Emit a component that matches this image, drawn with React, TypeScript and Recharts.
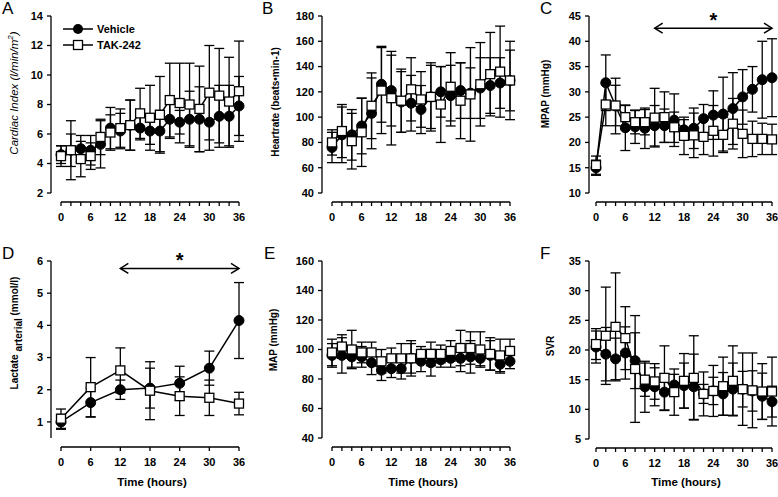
import React from 'react';
import { ComposedChart, Line, XAxis, YAxis, ErrorBar, ReferenceLine, Legend } from 'recharts';

const FONT = '"Liberation Sans", Arial, Helvetica, sans-serif';

// ---------- categories ----------
const hours = [0, 2, 4, 6, 8, 10, 12, 14, 16, 18, 20, 22, 24, 26, 28, 30, 32, 34, 36];
const lactateHours = [0, 6, 12, 18, 24, 30, 36];
const seriesNames = ['Vehicle', 'TAK-242'];

// ---------- A: Cardiac index ----------
const vehicleCI = [4.6, 4.9, 5.0, 4.9, 5.3, 6.4, 6.2, 6.6, 6.4, 6.2, 6.2, 7.0, 6.8, 7.0, 7.0, 6.8, 7.2, 7.2, 7.9];
const vehicleCISd = [0.6, 1.1, 0.9, 1.0, 1.6, 1.4, 1.2, 1.7, 0.8, 0.9, 1.4, 1.3, 0.8, 1.9, 2.2, 1.9, 2.1, 2.1, 2.0];
const takCI = [4.5, 4.9, 4.3, 4.5, 5.8, 6.1, 6.4, 6.6, 7.4, 7.1, 7.3, 8.3, 8.1, 8.0, 7.7, 8.8, 8.6, 8.2, 8.9];
const takCISd = [0.7, 2.0, 1.2, 0.9, 1.2, 1.2, 1.3, 1.7, 1.7, 2.2, 2.6, 2.5, 2.7, 2.8, 2.9, 3.2, 3.2, 3.0, 3.4];
const ticksCI = [2, 4, 6, 8, 10, 12, 14];

// ---------- B: Heart rate ----------
const vehicleHR = [76, 86, 86, 93, 103, 126, 121, 112, 111, 106, 116, 120, 117, 121, 119, 123, 125, 127, 129];
const vehicleHRSd = [12, 22, 20, 22, 28, 30, 28, 24, 22, 19, 25, 20, 24, 22, 20, 24, 22, 20, 24];
const takHR = [80, 89, 81, 88, 109, 121, 115, 113, 122, 114, 116, 110, 124, 113, 118, 126, 134, 136, 129];
const takHRSd = [10, 21, 22, 27, 26, 34, 37, 25, 25, 22, 27, 30, 27, 30, 37, 33, 33, 36, 31];
const ticksHR = [40, 60, 80, 100, 120, 140, 160, 180];

// ---------- C: MPAP ----------
const vehicleMPAP = [15.0, 31.8, 27.2, 22.9, 23.1, 22.8, 23.3, 23.3, 24.4, 22.5, 22.8, 24.7, 25.4, 25.6, 26.7, 29.0, 30.5, 32.4, 32.8];
const vehicleMPAPSd = [1.5, 5.5, 5.5, 4.5, 3.3, 4.0, 4.0, 3.3, 5.2, 2.0, 4.0, 2.8, 4.8, 7.3, 7.1, 5.4, 4.5, 7.6, 7.7];
const takMPAP = [15.5, 27.5, 27.3, 25.0, 24.0, 24.0, 24.9, 25.0, 23.0, 21.3, 21.4, 21.1, 22.3, 21.5, 23.7, 21.7, 20.7, 20.7, 20.6];
const takMPAPSd = [1.8, 4.2, 4.0, 2.3, 2.3, 2.5, 5.8, 5.0, 3.0, 3.7, 4.4, 3.5, 5.0, 3.5, 5.0, 4.7, 3.5, 3.1, 3.0];
const ticksMPAP = [10, 15, 20, 25, 30, 35, 40, 45];

// ---------- D: Lactate ----------
const vehicleLac = [1.0, 1.6, 2.0, 2.05, 2.2, 2.67, 4.15];
const vehicleLacSd = [0.23, 0.45, 0.3, 0.62, 0.53, 0.53, 1.18];
const takLac = [1.1, 2.08, 2.6, 1.97, 1.8, 1.75, 1.57];
const takLacSd = [0.3, 0.92, 0.7, 0.9, 0.6, 0.55, 0.35];
const ticksLac = [1, 2, 3, 4, 5, 6];

// ---------- E: MAP ----------
const vehicleMAP = [96, 96, 95, 95, 91, 86, 87, 87, 94, 92, 91, 93, 94, 94, 95, 94, 96, 90, 92];
const vehicleMAPSd = [8, 12, 7, 7, 8, 7, 6, 7, 10, 7, 9, 5, 6, 9, 11, 5, 10, 6, 5];
const takMAP = [98, 102, 100, 98, 98, 92, 94, 94, 94, 97, 97, 97, 99, 101, 101, 100, 97, 96, 99];
const takMAPSd = [9, 8, 13, 7, 7, 8, 7, 10, 12, 5, 8, 6, 7, 12, 11, 12, 11, 11, 8];
const ticksMAP = [40, 60, 80, 100, 120, 140, 160];

// ---------- F: SVR ----------
const vehicleSVR = [20.5, 19.3, 18.5, 19.5, 18.2, 13.8, 13.8, 12.9, 14.1, 14.0, 13.8, 12.6, 13.1, 12.6, 13.4, 13.4, 13.1, 12.2, 11.3];
const vehicleSVRSd = [2.7, 4.5, 3.5, 4.4, 4.7, 4.3, 3.2, 3.1, 1.8, 3.8, 5.5, 1.6, 2.3, 3.6, 4.4, 3.0, 3.4, 3.9, 2.6];
const takSVR = [21.0, 22.4, 23.9, 22.0, 16.8, 15.0, 14.7, 15.3, 12.9, 14.8, 15.3, 12.6, 13.1, 13.9, 14.8, 13.4, 13.2, 13.0, 13.0];
const takSVRSd = [2.6, 8.2, 9.1, 5.3, 9.0, 2.8, 3.0, 5.4, 3.9, 4.6, 7.1, 3.7, 4.3, 4.9, 5.9, 6.1, 6.3, 4.7, 5.8];
const ticksSVR = [5, 10, 15, 20, 25, 30, 35];

const build = (xs: number[], veh: number[], vehSd: number[], tak: number[], takSd: number[]) =>
  xs.map((t, i) => ({ t, veh: veh[i], vehErr: vehSd[i], tak: tak[i], takErr: takSd[i] }));

const panels = [
  {
    letter: 'A', left: 0, top: 0, height: 245, axisX: 51, x0: 61, x36: 239, yTop: 16, yMin: 193, xAxisY: 202,
    data: build(hours, vehicleCI, vehicleCISd, takCI, takCISd), domain: [2, 14], yTicks: ticksCI, xTicks: hours,
    title: 'ci', titleX: 14, titleY: 93, legend: true,
  },
  {
    letter: 'B', left: 260, top: 0, height: 245, axisX: 322, x0: 332, x36: 510, yTop: 16, yMin: 193, xAxisY: 202,
    data: build(hours, vehicleHR, vehicleHRSd, takHR, takHRSd), domain: [40, 180], yTicks: ticksHR, xTicks: hours,
    title: 'Heartrate (beats\u2022min-1)', titleX: 275, titleY: 102,
  },
  {
    letter: 'C', left: 518, top: 0, height: 245, axisX: 589, x0: 596, x36: 772, yTop: 16, yMin: 193, xAxisY: 202,
    data: build(hours, vehicleMPAP, vehicleMPAPSd, takMPAP, takMPAPSd), domain: [10, 45], yTicks: ticksMPAP, xTicks: hours,
    title: 'MPAP (mmHg)', titleX: 545, titleY: 94, arrowY: 42.6,
  },
  {
    letter: 'D', left: 0, top: 245, height: 252, axisX: 51, x0: 61, x36: 239, yTop: 261, yMin: 438, xAxisY: 447,
    data: build(lactateHours, vehicleLac, vehicleLacSd, takLac, takLacSd), domain: [0.5, 6], yTicks: ticksLac, xTicks: lactateHours,
    title: 'lac', titleX: 14, titleY: 333, arrowY: 5.77, time: true,
  },
  {
    letter: 'E', left: 260, top: 245, height: 252, axisX: 322, x0: 332, x36: 510, yTop: 261, yMin: 438, xAxisY: 447,
    data: build(hours, vehicleMAP, vehicleMAPSd, takMAP, takMAPSd), domain: [40, 160], yTicks: ticksMAP, xTicks: hours,
    title: 'MAP (mmHg)', titleX: 273, titleY: 340, time: true,
  },
  {
    letter: 'F', left: 518, top: 245, height: 252, axisX: 589, x0: 596, x36: 772, yTop: 261, yMin: 439, xAxisY: 448,
    data: build(hours, vehicleSVR, vehicleSVRSd, takSVR, takSVRSd), domain: [5, 35], yTicks: ticksSVR, xTicks: hours,
    title: 'SVR', titleX: 550, titleY: 346, time: true,
  },
];

const tickStyle = { fontSize: 11, fontWeight: 'bold', fill: '#000', fontFamily: FONT };

function YTitle(props: any) {
  const { tx, ty, kind } = props;
  const common = {
    x: tx, y: ty, textAnchor: 'middle' as const, dominantBaseline: 'central' as const,
    transform: `rotate(-90 ${tx} ${ty})`, fill: '#000', fontFamily: FONT,
  };
  if (kind === 'ci') {
    return (
      <text {...common} fontSize={11.5} fontStyle="italic">
        Cardiac Index (l/min/m<tspan dy={-4} fontSize={8}>2</tspan><tspan dy={4}>)</tspan>
      </text>
    );
  }
  if (kind === 'lac') {
    return (
      <text {...common} fontSize={10} fontWeight="bold">
        Lactate <tspan dy={4}>arterial</tspan><tspan dy={-4}>{'  (mmol/l)'}</tspan>
      </text>
    );
  }
  return (
    <text {...common} fontSize={10} fontWeight="bold">
      {kind}
    </text>
  );
}

function TimeTitle(props: any) {
  const { tx, ty } = props;
  return (
    <text x={tx} y={ty} textAnchor="middle" fontSize={11.5} fontWeight="bold" fill="#000" fontFamily={FONT}>
      Time (hours)
    </text>
  );
}

const squareDot = (props: any) => {
  const { cx, cy, index } = props;
  if (cx == null || cy == null) return <g key={`s${index}`} />;
  return <rect key={`s${index}`} x={cx - 4.5} y={cy - 4.5} width={9} height={9} fill="#fff" stroke="#000" strokeWidth={1.3} />;
};

const arrowShape = (props: any) => {
  const { x1, y1, x2, y2 } = props;
  const mid = (x1 + x2) / 2;
  return (
    <g>
      <line x1={x1} y1={y1} x2={x2} y2={y2} stroke="#000" strokeWidth={1.5} />
      <polyline points={`${x1 + 8},${y1 - 5} ${x1},${y1} ${x1 + 8},${y1 + 5}`} fill="none" stroke="#000" strokeWidth={1.5} />
      <polyline points={`${x2 - 8},${y2 - 5} ${x2},${y2} ${x2 - 8},${y2 + 5}`} fill="none" stroke="#000" strokeWidth={1.5} />
      <text x={mid} y={y1 - 1} textAnchor="middle" fontSize={20} fontWeight="bold" fontFamily={FONT} fill="#000">*</text>
    </g>
  );
};

function LegendBox() {
  return (
    <svg width={110} height={34}>
      <g>
        <line x1={3} y1={8} x2={33} y2={8} stroke="#000" strokeWidth={1.5} />
        <circle cx={18} cy={8} r={5} fill="#000" />
        <text x={37} y={12} fontSize={11} fontWeight="bold" fontFamily={FONT} fill="#000">{seriesNames[0]}</text>
      </g>
      <g>
        <line x1={3} y1={24} x2={33} y2={24} stroke="#000" strokeWidth={1.5} />
        <rect x={13.5} y={19.5} width={9} height={9} fill="#fff" stroke="#000" strokeWidth={1.3} />
        <text x={37} y={28} fontSize={11} fontWeight="bold" fontFamily={FONT} fill="#000">{seriesNames[1]}</text>
      </g>
    </svg>
  );
}

function Panel({ p }: { p: any }) {
  const width = p.x36 + 6 - p.left;
  const axisH = p.height - (p.xAxisY - p.top);
  const padL = p.x0 - p.axisX;
  const padB = p.xAxisY - p.yMin;
  const titleKind = p.title;
  return (
    <div style={{ position: 'absolute', left: p.left, top: p.top }}>
      <ComposedChart
        width={width}
        height={p.height}
        data={p.data}
        margin={{ top: p.yTop - p.top, right: 0, bottom: 0, left: 0 }}
      >
        <XAxis
          dataKey="t"
          type="number"
          domain={[0, 36]}
          ticks={p.xTicks}
          interval={0}
          tickFormatter={(v: number) => (v % 6 === 0 ? String(v) : '')}
          padding={{ left: padL, right: 6 }}
          height={axisH}
          axisLine={{ stroke: '#000', strokeWidth: 1.3, strokeDasharray: `0 ${padL} ${p.x36 - p.x0} 3000` }}
          tickLine={{ stroke: '#000', strokeWidth: 1.3 }}
          tickSize={4}
          tickMargin={7}
          tick={tickStyle}
          label={p.time ? <TimeTitle tx={(p.x0 + p.x36) / 2 - p.left + 2} ty={486 - p.top} /> : undefined}
        />
        <YAxis
          type="number"
          domain={p.domain}
          ticks={p.yTicks}
          interval={0}
          width={p.axisX - p.left}
          padding={{ top: 0, bottom: padB }}
          axisLine={{ stroke: '#000', strokeWidth: 1.3, strokeDasharray: `${p.yMin - p.yTop} 3000` }}
          tickLine={{ stroke: '#000', strokeWidth: 1.3 }}
          tickSize={4}
          tickMargin={4}
          tick={tickStyle}
          label={<YTitle tx={p.titleX - p.left} ty={p.titleY - p.top} kind={titleKind} />}
        />
        {p.arrowY != null && (
          <ReferenceLine
            segment={[{ x: 12, y: p.arrowY }, { x: 36, y: p.arrowY }]}
            ifOverflow="visible"
            shape={arrowShape}
          />
        )}
        <Line dataKey="veh" stroke="none" dot={false} isAnimationActive={false} legendType="none">
          <ErrorBar dataKey="vehErr" width={5} stroke="#000" strokeWidth={1.3} isAnimationActive={false} />
        </Line>
        <Line dataKey="tak" stroke="none" dot={false} isAnimationActive={false} legendType="none">
          <ErrorBar dataKey="takErr" width={5} stroke="#000" strokeWidth={1.3} isAnimationActive={false} />
        </Line>
        <Line
          dataKey="veh"
          name={seriesNames[0]}
          stroke="#000"
          strokeWidth={1.5}
          dot={{ r: 5, fill: '#000', stroke: '#000', strokeWidth: 1 }}
          isAnimationActive={false}
        />
        <Line
          dataKey="tak"
          name={seriesNames[1]}
          stroke="#000"
          strokeWidth={1.5}
          dot={squareDot}
          isAnimationActive={false}
        />
        {p.legend && (
          <Legend
            layout="vertical"
            align="center"
            verticalAlign="middle"
            wrapperStyle={{ left: 60, top: 21, width: 110, height: 34 }}
            content={() => <LegendBox />}
          />
        )}
      </ComposedChart>
      <div
        style={{
          position: 'absolute', left: p.letterX ?? 0, top: 0, fontFamily: FONT, fontSize: 17,
          lineHeight: '18px', color: '#000',
        }}
      >
        {p.letter}
      </div>
    </div>
  );
}

const letterOffsets: Record<string, number> = { A: 2, B: 2, C: 22, D: 2, E: 4, F: 22 };

export default function App() {
  return (
    <div style={{ position: 'absolute', left: 0, top: 0, width: 778, height: 497, background: '#fff', fontFamily: FONT }}>
      {panels.map((p) => (
        <Panel key={p.letter} p={{ ...p, letterX: letterOffsets[p.letter] }} />
      ))}
    </div>
  );
}
